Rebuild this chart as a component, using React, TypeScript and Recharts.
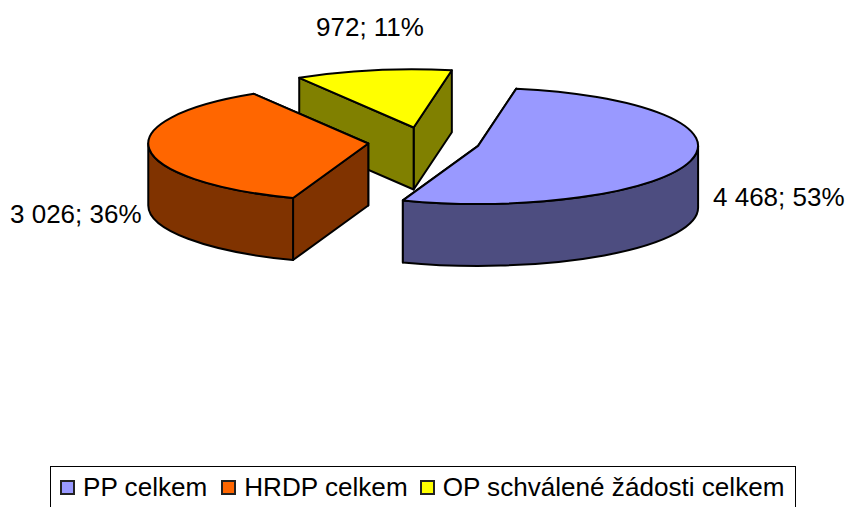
import { PieChart, Pie, Legend } from 'recharts'

const names = ['PP celkem', 'HRDP celkem', 'OP schválené žádosti celkem']
const values = [4468, 3026, 972]
const valueLabels = ['4 468; 53%', '3 026; 36%', '972; 11%']
const topColors = ['#9999FF', '#FF6600', '#FFFF00']
const sideColors = ['#4D4D80', '#803300', '#808000']
const legendGaps = [9, 14, 12]

// back slice has to paint first, so the pie is fed in reverse and runs counter-clockwise
const rows = names
  .map((name, i) => ({ name, value: values[i], text: valueLabels[i], top: topColors[i], side: sideColors[i] }))
  .reverse()

const SQUASH = 0.264 // ellipse ry / rx
const DEPTH = 62
const EXPLODE = 56
const RAD = Math.PI / 180

function Slice3D(props: any) {
  const { cx, cy, outerRadius: r, startAngle, endAngle, midAngle, payload } = props
  const ox = cx + EXPLODE * Math.cos(midAngle * RAD)
  const oy = cy - EXPLODE * SQUASH * Math.sin(midAngle * RAD)
  const ry = r * SQUASH
  const px = (a: number) => ox + r * Math.cos(a * RAD)
  const py = (a: number) => oy - ry * Math.sin(a * RAD)
  const a0 = Math.min(startAngle, endAngle)
  const a1 = Math.max(startAngle, endAngle)
  const stroke = { stroke: '#000', strokeWidth: 2, strokeLinejoin: 'round' as const }

  const cut = (a: number) =>
    `M${ox},${oy} L${px(a)},${py(a)} L${px(a)},${py(a) + DEPTH} L${ox},${oy + DEPTH} Z`

  // only the front half of the rim is visible
  const walls: string[] = []
  for (const [lo, hi] of [[180, 360], [540, 720]]) {
    const s = Math.max(a0, lo)
    const e = Math.min(a1, hi)
    if (e <= s) continue
    walls.push(
      `M${px(s)},${py(s)} A${r},${ry} 0 0 0 ${px(e)},${py(e)} ` +
        `L${px(e)},${py(e) + DEPTH} A${r},${ry} 0 0 1 ${px(s)},${py(s) + DEPTH} Z`,
    )
  }

  const large = a1 - a0 > 180 ? 1 : 0
  const topFace = `M${ox},${oy} L${px(a0)},${py(a0)} A${r},${ry} 0 ${large} 0 ${px(a1)},${py(a1)} Z`

  return (
    <g>
      <path d={cut(a0)} fill={payload.side} {...stroke} />
      <path d={cut(a1)} fill={payload.side} {...stroke} />
      {walls.map(d => <path key={d} d={d} fill={payload.side} {...stroke} />)}
      <path d={topFace} fill={payload.top} {...stroke} />
    </g>
  )
}

const labelPlaces: Record<string, { x: number; y: number }> = {
  'PP celkem': { x: 713, y: 206 },
  'HRDP celkem': { x: 10, y: 223 },
  'OP schválené žádosti celkem': { x: 316, y: 36 },
}

function SliceLabel(props: any) {
  const place = labelPlaces[props.payload.name]
  return (
    <text x={place.x} y={place.y} fontSize={26} fill="#000" fontFamily="'Liberation Sans', Arial, sans-serif">
      {props.payload.text}
    </text>
  )
}

function LegendBox() {
  return (
    <div
      style={{
        width: 746, height: 41, boxSizing: 'border-box',
        border: '1px solid #000', borderBottom: 'none', display: 'flex', alignItems: 'flex-start',
        fontFamily: "'Liberation Sans', Arial, sans-serif", fontSize: 26.1, lineHeight: '41px', color: '#000',
        whiteSpace: 'nowrap', background: '#fff',
      }}
    >
      {names.map((name, i) => (
        <span key={name} style={{ display: 'inline-flex', alignItems: 'center', marginLeft: legendGaps[i] }}>
          <span
            style={{
              display: 'inline-block', width: 15, height: 15, boxSizing: 'border-box',
              border: '2px solid #222', background: topColors[i], marginRight: 8,
            }}
          />
          {name}
        </span>
      ))}
    </div>
  )
}

export default function App() {
  return (
    <div style={{ position: 'absolute', left: 0, top: 0, width: 848, height: 507, overflow: 'hidden', background: '#fff' }}>
      <PieChart width={848} height={507} margin={{ top: 0, right: 0, bottom: 0, left: 0 }}>
        <Pie
          data={rows}
          dataKey="value"
          nameKey="name"
          cx={424}
          cy={142}
          outerRadius={220}
          startAngle={80}
          endAngle={440}
          paddingAngle={0}
          isAnimationActive={false}
          shape={Slice3D}
          label={SliceLabel}
          labelLine={false}
        />
        <Legend content={LegendBox} wrapperStyle={{ left: 50, top: 466, bottom: 'auto', width: 746, height: 41 }} />
      </PieChart>
    </div>
  )
}
